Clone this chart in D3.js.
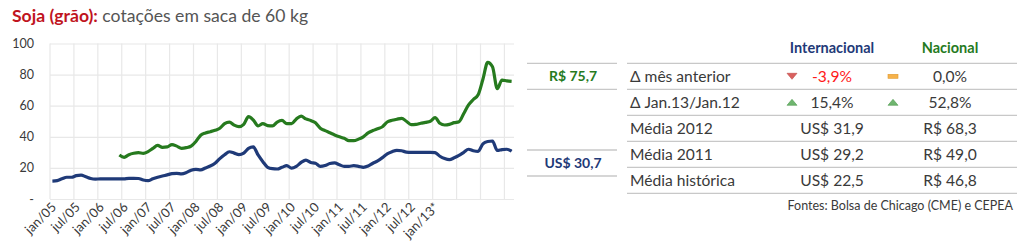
<!DOCTYPE html>
<html>
<head>
<meta charset="utf-8">
<script src="https://cdn.jsdelivr.net/npm/d3@7"></script>
<style>
  body { margin: 0; background: #fff; }
  svg { display: block; font-family: Lato, "Open Sans", sans-serif; }
</style>
</head>
<body>
<svg id="chart" width="1024" height="252"></svg>
<script>
// soja em grão, média mensal por saca de 60 kg, jan/05 .. jan/13
// Internacional (Chicago) em US$
const internacional = [
  11.5, 11.8, 13.0, 14.0, 14.0, 15.0, 15.3, 14.3, 13.2, 12.8, 12.9, 12.9,
  13.0, 13.0, 12.9, 13.0, 13.3, 13.3, 13.2, 12.2, 11.8, 13.0, 14.0, 14.8,
  15.5, 16.3, 16.5, 16.2, 17.0, 18.5, 19.0, 18.7, 20.0, 21.2, 23.0, 26.0,
  28.5, 30.4, 29.5, 28.5, 29.5, 32.5, 33.5, 28.3, 24.0, 20.4, 19.5, 19.3,
  20.4, 21.5, 19.8, 21.0, 23.5, 25.0, 23.5, 23.0, 21.0, 21.5, 22.8, 23.2,
  22.0, 21.0, 21.0, 21.4, 21.0, 20.4, 21.2, 23.0, 24.5, 26.6, 29.0, 30.4,
  31.3, 31.0, 30.2, 30.0, 30.0, 30.0, 30.0, 30.0, 29.8, 27.5, 26.0, 25.3,
  26.5, 28.0, 30.0, 32.0, 31.0, 30.6, 35.5, 37.0, 37.3, 31.2, 31.8, 32.0,
  30.7
];
// Nacional (CEPEA) em R$, série começa em mar/06
const nacional = [
  null, null, null, null, null, null, null, null, null, null, null, null,
  null, null, 28.3, 26.8, 28.5, 29.4, 29.8, 29.4, 30.5, 32.5, 34.5, 33.2,
  33.5, 35.0, 34.0, 32.6, 33.0, 34.0, 37.0, 41.0, 42.5, 43.3, 44.2, 45.5,
  48.5, 49.5, 47.5, 46.5, 48.0, 53.0, 50.8, 47.0, 48.5, 47.2, 47.0, 49.5,
  50.5, 48.5, 48.5, 51.5, 53.3, 51.5, 50.5, 49.0, 45.5, 44.0, 42.6, 41.2,
  40.0, 39.0, 37.5, 37.5, 38.5, 40.0, 42.5, 44.0, 45.2, 46.5, 49.5, 50.6,
  51.3, 51.9, 50.0, 47.8, 48.0, 48.7, 49.3, 50.0, 52.3, 48.7, 47.6, 48.0,
  49.1, 49.7, 55.0, 60.5, 64.0, 67.0, 77.0, 87.8, 85.0, 71.0, 76.5, 76.0,
  75.7
];
const xTickLabels = ["jan/05", "jul/05", "jan/06", "jul/06", "jan/07", "jul/07", "jan/08", "jul/08",
  "jan/09", "jul/09", "jan/10", "jul/10", "jan/11", "jul/11", "jan/12", "jul/12", "jan/13*"];
const yTicks = [0, 20, 40, 60, 80, 100];

const lastLabels = ["R$ 75,7", "US$ 30,7"];
const tableHeaders = ["Internacional", "Nacional"];
const tableRows = ["Δ mês anterior", "Δ Jan.13/Jan.12", "Média 2012", "Média 2011", "Média histórica"];
const colInternacional = ["-3,9%", "15,4%", "US$ 31,9", "US$ 29,2", "US$ 22,5"];
const colNacional = ["0,0%", "52,8%", "R$ 68,3", "R$ 49,0", "R$ 46,8"];
const trendInternacional = ["down", "up", null, null, null];
const trendNacional = ["flat", "up", null, null, null];

const NAVY = "#1f3a78", GREEN = "#267a1e", TEXT = "#3a3a3a", GRID = "#e8e8e8", RULE = "#c8c8c8";

const svg = d3.select("#chart");

// titulo
const title = svg.append("text").attr("x", 12).attr("y", 22).attr("font-size", 17.6);
title.append("tspan").attr("fill", "#c0141e").attr("font-weight", "bold").text("Soja (grão):");
title.append("tspan").attr("fill", "#555").text(" cotações em saca de 60 kg");

// escalas
const x = d3.scaleLinear().domain([0, internacional.length]).range([50, 514]);
const y = d3.scaleLinear().domain([0, 100]).range([199, 43.5]);

// grade horizontal + eixo y
const yAxis = svg.append("g")
  .attr("transform", `translate(50,0)`)
  .call(d3.axisLeft(y).tickValues(yTicks).tickSize(-464).tickPadding(16)
    .tickFormat(d => d === 0 ? "-" : d));
yAxis.select(".domain").remove();
yAxis.selectAll("line").attr("stroke", GRID).attr("stroke-width", 1.2);
yAxis.selectAll("text").attr("fill", TEXT).attr("font-size", 12.5).attr("font-family", "Lato");

// grade vertical a cada 5 meses
const xGrid = d3.range(0, internacional.length, 5);
svg.append("g").selectAll("line")
  .data(xGrid)
  .enter().append("line")
  .attr("x1", d => x(d)).attr("x2", d => x(d))
  .attr("y1", y(100)).attr("y2", y(0))
  .attr("stroke", GRID).attr("stroke-width", 1.2);

// rotulos do eixo x (um por linha de grade)
svg.append("g").selectAll("text")
  .data(xTickLabels)
  .enter().append("text")
  .attr("transform", (d, i) => `translate(${x(xGrid[i]) + 7},${208}) rotate(-45)`)
  .attr("text-anchor", "end")
  .attr("font-size", 13)
  .attr("fill", TEXT)
  .text(d => d);

// linhas
const line = d3.line()
  .defined(d => d != null)
  .x((d, i) => x(i + 0.5))
  .y(d => y(d))
  .curve(d3.curveMonotoneX);

svg.append("path").datum(internacional)
  .attr("d", line).attr("fill", "none")
  .attr("stroke", NAVY).attr("stroke-width", 3.2).attr("stroke-linejoin", "round");

svg.append("path").datum(nacional)
  .attr("d", line).attr("fill", "none")
  .attr("stroke", GREEN).attr("stroke-width", 3.2).attr("stroke-linejoin", "round");

// ultimos valores
const lastBoxes = [{top: 63.3, color: GREEN}, {top: 150, color: NAVY}];
lastBoxes.forEach((b, i) => {
  const g = svg.append("g");
  g.append("line").attr("x1", 527).attr("x2", 617).attr("y1", b.top).attr("y2", b.top)
    .attr("stroke", RULE).attr("stroke-width", 1.3);
  g.append("line").attr("x1", 527).attr("x2", 617).attr("y1", b.top + 26).attr("y2", b.top + 26)
    .attr("stroke", RULE).attr("stroke-width", 1.3);
  g.append("text").attr("x", 573).attr("y", b.top + 18)
    .attr("text-anchor", "middle").attr("font-size", 14).attr("font-weight", "bold")
    .attr("fill", b.color).text(lastLabels[i]);
});

// tabela
const tableLeft = 627, tableRight = 1017, rowTop = 63.3, rowH = 26;
const colX = [832, 950], iconX = [792, 893];

svg.append("g").selectAll("text")
  .data(tableHeaders)
  .enter().append("text")
  .attr("x", (d, i) => colX[i]).attr("y", 52.5)
  .attr("text-anchor", "middle").attr("font-size", 14.5).attr("font-weight", "bold")
  .attr("fill", (d, i) => i === 0 ? NAVY : GREEN)
  .text(d => d);

svg.append("g").selectAll("line")
  .data(d3.range(tableRows.length + 1))
  .enter().append("line")
  .attr("x1", tableLeft).attr("x2", tableRight)
  .attr("y1", d => rowTop + d * rowH).attr("y2", d => rowTop + d * rowH)
  .attr("stroke", RULE).attr("stroke-width", 1.3);

const rows = svg.append("g").selectAll("g")
  .data(tableRows)
  .enter().append("g")
  .attr("transform", (d, i) => `translate(0,${rowTop + i * rowH + 18.5})`);

rows.append("text").attr("x", 630).attr("font-size", 15.6).attr("fill", TEXT).text(d => d);
rows.append("text").attr("x", colX[0]).attr("text-anchor", "middle").attr("font-size", 15.6)
  .attr("fill", (d, i) => trendInternacional[i] === "down" ? "#ff1a1a" : TEXT)
  .text((d, i) => colInternacional[i]);
rows.append("text").attr("x", colX[1]).attr("text-anchor", "middle").attr("font-size", 15.6)
  .attr("fill", TEXT)
  .text((d, i) => colNacional[i]);

// icones de tendencia
function drawIcon(kind, cx, cy) {
  if (kind === "down") {
    svg.append("path").attr("d", `M${cx - 5},${cy - 3}L${cx + 5},${cy - 3}L${cx},${cy + 3}Z`)
      .attr("fill", "#d9605e").attr("stroke", "#c04a48").attr("stroke-width", 0.6);
  } else if (kind === "up") {
    svg.append("path").attr("d", `M${cx - 5},${cy + 3}L${cx + 5},${cy + 3}L${cx},${cy - 3}Z`)
      .attr("fill", "#6fb56f").attr("stroke", "#4f9a4f").attr("stroke-width", 0.6);
  } else if (kind === "flat") {
    svg.append("rect").attr("x", cx - 5).attr("y", cy - 2).attr("width", 10).attr("height", 4)
      .attr("fill", "#f6b24a").attr("stroke", "#e09a30").attr("stroke-width", 0.6);
  }
}
tableRows.forEach((r, i) => {
  const cy = rowTop + i * rowH + 13;
  drawIcon(trendInternacional[i], iconX[0], cy);
  drawIcon(trendNacional[i], iconX[1], cy);
});

// fonte
svg.append("text").attr("x", 1013).attr("y", 209.5)
  .attr("text-anchor", "end").attr("font-size", 12.5).attr("fill", TEXT)
  .text("Fontes: Bolsa de Chicago (CME) e CEPEA");
</script>
</body>
</html>
